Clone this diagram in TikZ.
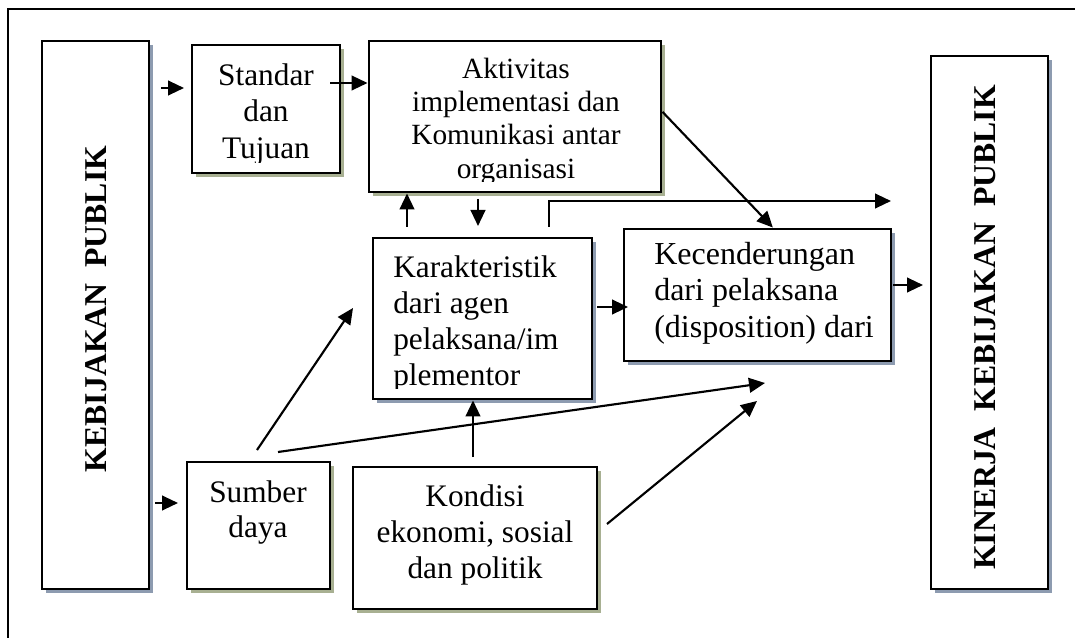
\documentclass[tikz,border=0pt]{standalone}
\usepackage{fontspec}
\setmainfont{Liberation Serif}
\usetikzlibrary{arrows.meta,shadows}
\definecolor{shblue}{RGB}{141,155,176}
\definecolor{shgreen}{RGB}{168,176,146}

\begin{document}
\begin{tikzpicture}[x=0.75pt,y=-0.75pt,
  frame/.style={line width=2pt},
  box/.style={draw, line width=2.2pt, fill=white, inner sep=0pt},
  bshadow/.style={drop shadow={shadow xshift=3pt, shadow yshift=-3pt, fill=shblue, opacity=1}},
  gshadow/.style={drop shadow={shadow xshift=3pt, shadow yshift=-3pt, fill=shgreen, opacity=1}},
  txt/.style={inner sep=0pt, font=\fontsize{23.5pt}{27.5pt}\selectfont},
  vtxt/.style={inner sep=0pt, rotate=90, font=\fontsize{23.8pt}{28pt}\selectfont\bfseries},
  arr/.style={line width=1.6pt, -{Triangle[length=12pt,width=11pt]}},
  link/.style={line width=1.6pt}
]
\clip (0,0) rectangle (1075,638);

% outer frame
\draw[frame] (8,9) rectangle (1090,655);

% boxes
\node[box,bshadow,minimum width=80.25pt,minimum height=411pt] (kp) at (95.5,315) {};
\node[box,gshadow,minimum width=111pt,minimum height=96pt] (std) at (266,109) {};
\node[box,gshadow,minimum width=219pt,minimum height=113.25pt] (akt) at (515,116.5) {};
\node[box,bshadow,minimum width=164.25pt,minimum height=120.75pt] (kar) at (482.5,318.5) {};
\node[box,bshadow,minimum width=200.25pt,minimum height=99pt] (kec) at (757.5,295) {};
\node[box,bshadow,minimum width=87.75pt,minimum height=399.75pt] (kin) at (989.5,322.5) {};
\node[box,gshadow,minimum width=107.25pt,minimum height=95.25pt] (smb) at (258.5,525.5) {};
\node[box,gshadow,minimum width=183pt,minimum height=106.5pt] (kon) at (475,538) {};

% box texts (cut off at the lower edge of the text area)
\node[vtxt] (kptxt) at (96,309) {KEBIJAKAN\hspace{0.5em}PUBLIK};
\node[vtxt] (kintxt) at (985.5,327.5) {KINERJA\hspace{0.5em}KEBIJAKAN\hspace{0.5em}PUBLIK};

\begin{scope}
  \clip (std.north west) rectangle ([yshift=9pt]std.south east);
  \node[txt, anchor=north, align=center] (stdtxt) at (266,59.3) {\strut Standar\\dan\\Tujuan};
\end{scope}
\begin{scope}
  \clip (akt.north west) rectangle ([yshift=9pt]akt.south east);
  \node[txt, anchor=north, align=center, font=\fontsize{22pt}{25pt}\selectfont] (akttxt) at (516,54.7)
    {\strut Aktivitas\\implementasi dan\\Komunikasi antar\\organisasi};
\end{scope}
\begin{scope}
  \clip (kar.north west) rectangle ([yshift=9pt]kar.south east);
  \node[txt, anchor=north west, align=left, font=\fontsize{23.5pt}{27pt}\selectfont] (kartxt) at (393,251.8)
    {\strut Karakteristik\\dari agen\\pelaksana/im\\plementor};
\end{scope}
\node[txt, anchor=north west, align=left, font=\fontsize{24pt}{27.5pt}\selectfont] (kectxt) at (654,238.3)
  {\strut Kecenderungan\\dari pelaksana\\(disposition) dari};
\node[txt, anchor=north, align=center, font=\fontsize{23.5pt}{26.25pt}\selectfont] (smbtxt) at (258,477.5)
  {\strut Sumber\\daya};
\node[txt, anchor=north, align=center, font=\fontsize{23.5pt}{27pt}\selectfont] (kontxt) at (475,480.8)
  {\strut Kondisi\\ekonomi, sosial\\dan politik};

% free connector ends
\coordinate (k1a) at (161,88);   \coordinate (k1b) at (184,88);
\coordinate (s2)  at (330,83);
\coordinate (c3)  at (407,227);
\coordinate (c4a) at (478,199);  \coordinate (c4b) at (478,226);
\coordinate (c5a) at (549,227);  \coordinate (c5b) at (549,201);  \coordinate (c5c) at (891,201);
\coordinate (c7a) at (597,307);  \coordinate (c7b) at (628,307);
\coordinate (c8a) at (893,285);  \coordinate (c8b) at (923,285);
\coordinate (c9a) at (155,503);  \coordinate (c9b) at (178,503);
\coordinate (c10a) at (257,450); \coordinate (c10b) at (353,308);
\coordinate (c11a) at (278,452); \coordinate (c11b) at (765,383);
\coordinate (c12) at (473,457);
\coordinate (c13a) at (607,524); \coordinate (c13b) at (757,401);

% connectors
\draw[arr] (k1a) -- (k1b);
\draw[arr] (s2) -- (akt.west |- s2);
\draw[arr] (c3) -- (c3 |- akt.south);
\draw[arr] (c4a) -- (c4b);
\draw[arr] (c5a) -- (c5b) -- (c5c);
\draw[arr] ([yshift=3.5pt]akt.east) -- ([xshift=11.5pt]kec.north);
\draw[arr] (c7a) -- (c7b);
\draw[arr] (c8a) -- (c8b);
\draw[arr] (c9a) -- (c9b);
\draw[arr] (c10a) -- (c10b);
\draw[arr] (c11a) -- (c11b);
\draw[arr] (c12) -- (c12 |- kar.south);
\draw[arr] (c13a) -- (c13b);
\end{tikzpicture}
\end{document}
